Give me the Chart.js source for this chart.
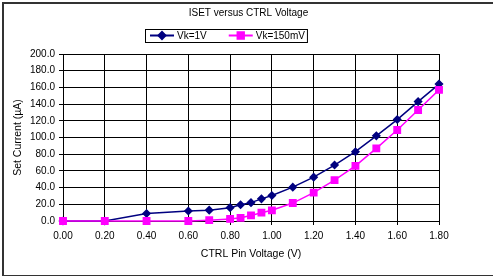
<!DOCTYPE html>
<html>
<head>
<meta charset="utf-8">
<script src="https://cdn.jsdelivr.net/npm/chart.js@4.4.1/dist/chart.umd.min.js"></script>
<style>
  body { margin: 0; background: #fff; }
  #wrap { width: 493px; height: 276px; }
</style>
</head>
<body>
<div id="wrap"><canvas id="isetChart" width="493" height="276"></canvas></div>
<script>
// CTRL pin voltage (V) and set current (uA)
const ctrlVoltage = [0, 0.2, 0.4, 0.6, 0.7, 0.8, 0.85, 0.9, 0.95, 1.0, 1.1, 1.2, 1.3, 1.4, 1.5, 1.6, 1.7, 1.8];
const isetVk1V    = [0, 0, 9, 12, 13, 16, 19.5, 22, 26.5, 30.5, 40.5, 52.5, 67, 83, 102, 121.5, 143, 164];
const isetVk150mV = [0, 0, 0, 0, 1, 2.5, 3.8, 6.7, 10, 12.8, 21.5, 34, 49, 66, 87, 109, 133, 157];
const seriesLabels = ["Vk=1V", "Vk=150mV"];
const xTickValues = [0, 0.2, 0.4, 0.6, 0.8, 1.0, 1.2, 1.4, 1.6, 1.8];
const yTickValues = [0, 20, 40, 60, 80, 100, 120, 140, 160, 180, 200];

const FONT = "'Liberation Sans', Arial, sans-serif";

function toPoints(ys) {
    return ctrlVoltage.map((x, i) => ({ x: x, y: ys[i] }));
}

// white background + outer chart frame
const framePlugin = {
    id: "frame",
    beforeDraw(chart) {
        const c = chart.ctx;
        c.save();
        c.fillStyle = "#fff";
        c.fillRect(0, 0, chart.width, chart.height);
        c.strokeStyle = "#333";
        c.lineWidth = 2;
        c.strokeRect(3, 3, chart.width + 20, chart.height - 3);
        c.restore();
    }
};

// Excel style legend box: line + marker + label
const legendBoxPlugin = {
    id: "legendBox",
    afterDraw(chart) {
        const c = chart.ctx;
        const boxX = 145, boxY = 29, boxH = 13;
        const lineW = 24, gap = 3, itemGap = 22;
        const midY = boxY + boxH / 2;
        c.save();
        c.font = "10px " + FONT;
        c.textBaseline = "middle";
        let x = boxX + 5;
        chart.data.datasets.forEach(ds => {
            c.strokeStyle = ds.borderColor;
            c.lineWidth = 2;
            c.beginPath();
            c.moveTo(x, midY);
            c.lineTo(x + lineW, midY);
            c.stroke();
            c.fillStyle = ds.pointBackgroundColor;
            c.strokeStyle = ds.pointBorderColor;
            Chart.helpers.drawPoint(c, {
                pointStyle: ds.pointStyle, radius: ds.pointRadius, rotation: 0, borderWidth: 1
            }, x + lineW / 2, midY);
            c.fillStyle = "#000";
            c.textAlign = "left";
            c.fillText(ds.label, x + lineW + gap, midY + 0.5);
            x += lineW + gap + c.measureText(ds.label).width + itemGap;
        });
        c.strokeStyle = "#000";
        c.lineWidth = 1;
        c.strokeRect(boxX + 0.5, boxY + 0.5, x - itemGap + 2 - boxX, boxH);
        c.restore();
    }
};

new Chart(document.getElementById("isetChart").getContext("2d"), {
    type: "scatter",
    data: {
        datasets: [
            {
                label: seriesLabels[0],
                data: toPoints(isetVk1V),
                showLine: true,
                borderColor: "#000080",
                backgroundColor: "#000080",
                pointBackgroundColor: "#000080",
                pointBorderColor: "#000080",
                borderWidth: 1.5,
                pointStyle: "rectRot",
                pointRadius: 3.5,
                order: 1,
                clip: false
            },
            {
                label: seriesLabels[1],
                data: toPoints(isetVk150mV),
                showLine: true,
                borderColor: "#ff00ff",
                backgroundColor: "#ff00ff",
                pointBackgroundColor: "#ff00ff",
                pointBorderColor: "#ff00ff",
                borderWidth: 1.5,
                pointStyle: "rect",
                pointRadius: 4.5,
                order: 0,
                clip: false
            }
        ]
    },
    options: {
        responsive: false,
        animation: false,
        devicePixelRatio: 1,
        layout: { padding: { left: 4, right: 0, top: 0, bottom: 0 } },
        plugins: {
            legend: { display: false },
            tooltip: { enabled: false },
            title: {
                display: true,
                text: "ISET versus CTRL Voltage",
                color: "#000",
                font: { family: FONT, size: 10, weight: "normal", lineHeight: 1.2 },
                padding: { top: 7, bottom: 35 }
            }
        },
        scales: {
            x: {
                type: "linear",
                min: 0,
                max: 1.8,
                afterBuildTicks: s => { s.ticks = xTickValues.map(v => ({ value: v })); },
                afterFit: s => { s.height = 55; },
                grid: { color: "#000", lineWidth: 1, tickLength: 4 },
                border: { color: "#000", width: 1 },
                ticks: {
                    color: "#000",
                    padding: 5,
                    maxRotation: 0,
                    font: { family: FONT, size: 10 },
                    callback: v => Number(v).toFixed(2)
                },
                title: {
                    display: true,
                    text: "CTRL Pin Voltage (V)",
                    color: "#000",
                    font: { family: FONT, size: 10.5 },
                    padding: { top: 0, bottom: 16 }
                }
            },
            y: {
                type: "linear",
                min: 0,
                max: 200,
                afterBuildTicks: s => { s.ticks = yTickValues.map(v => ({ value: v })); },
                afterFit: s => { s.width = 59; },
                grid: { color: "#000", lineWidth: 1, tickLength: 4 },
                border: { color: "#000", width: 1 },
                ticks: {
                    color: "#000",
                    padding: 4,
                    font: { family: FONT, size: 10 },
                    callback: v => Number(v).toFixed(1)
                },
                title: {
                    display: true,
                    text: "Set Current (µA)",
                    color: "#000",
                    font: { family: FONT, size: 10.5 },
                    padding: { top: 8, bottom: 0 }
                }
            },
            // empty right-hand margin, so the title stays centred on the whole chart
            rightGap: {
                type: "linear",
                position: "right",
                grid: { display: false },
                border: { display: false },
                ticks: { display: false },
                afterFit: s => { s.width = 54; }
            }
        }
    },
    plugins: [framePlugin, legendBoxPlugin]
});
</script>
</body>
</html>
